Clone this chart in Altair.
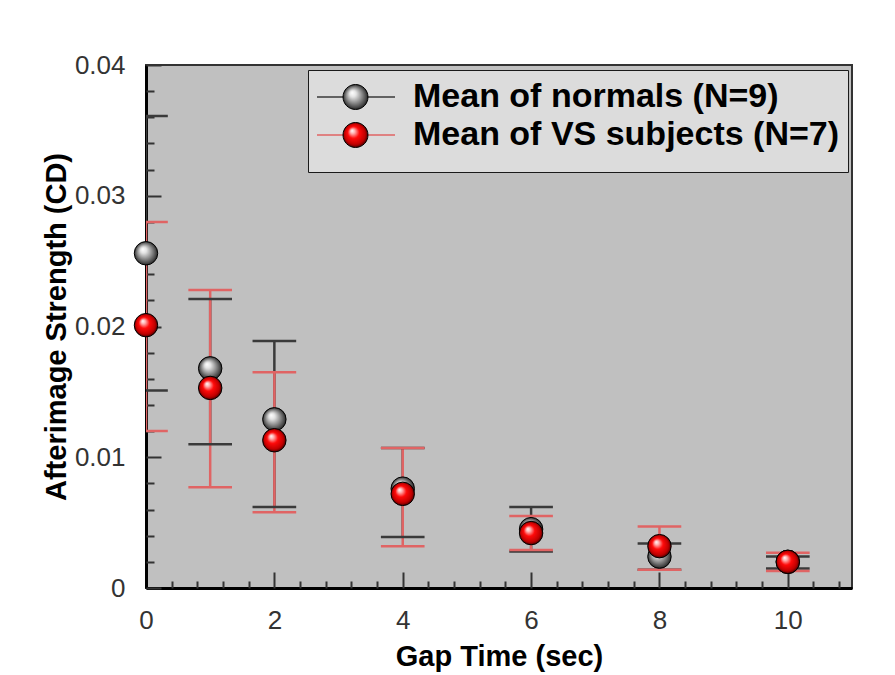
import altair as alt
import pandas as pd

FONT = "Liberation Sans"

# ---- data ----
gap = [0, 1, 2, 4, 6, 8, 10]
series_names = ["Mean of normals (N=9)", "Mean of VS subjects (N=7)"]
series_keys = ["N", "V"]

normal_mean = [0.0256, 0.0168, 0.0129, 0.0076, 0.0045, 0.0024, 0.0020]
normal_lo = [0.0151, 0.0110, 0.0062, 0.0039, 0.0028, 0.0014, 0.0015]
normal_hi = [0.0361, 0.0221, 0.0189, 0.0107, 0.0062, 0.0034, 0.0024]

vs_mean = [0.0201, 0.0153, 0.0113, 0.0072, 0.0042, 0.0032, 0.0020]
vs_lo = [0.0120, 0.0077, 0.0058, 0.0032, 0.0029, 0.0014, 0.0013]
vs_hi = [0.0280, 0.0228, 0.0165, 0.0107, 0.0055, 0.0047, 0.0027]

x_major = [0, 2, 4, 6, 8, 10]
x_minor = [0.4, 0.8, 1.2, 1.6, 2.4, 2.8, 3.2, 3.6, 4.4, 4.8, 5.2, 5.6,
           6.4, 6.8, 7.2, 7.6, 8.4, 8.8, 9.2, 9.6, 10.4, 10.8]
y_major = [0, 0.01, 0.02, 0.03, 0.04]
y_minor = [0.002, 0.004, 0.006, 0.008, 0.012, 0.014, 0.016, 0.018,
           0.022, 0.024, 0.026, 0.028, 0.032, 0.034, 0.036, 0.038]

rows = []
for name, key, means, los, his in [
    (series_names[0], series_keys[0], normal_mean, normal_lo, normal_hi),
    (series_names[1], series_keys[1], vs_mean, vs_lo, vs_hi),
]:
    for g, m, lo, hi in zip(gap, means, los, his):
        rows.append({"gap": g, "mean": m, "lo": lo, "hi": hi,
                     "series": name, "key": key})
df = pd.DataFrame(rows)

# ---- styling ----
line_colors = ["#3a3a3a", "#e06464"]
grad_gray = ("{gradient: 'radial', x1: 0.36, y1: 0.32, r1: 0, x2: 0.5, y2: 0.5, r2: 0.52, "
             "stops: [{offset: 0, color: '#ffffff'}, {offset: 0.25, color: '#e4e4e4'}, "
             "{offset: 0.6, color: '#8c8c8c'}, {offset: 0.85, color: '#4a4a4a'}, "
             "{offset: 1, color: '#1a1a1a'}]}")
grad_red = ("{gradient: 'radial', x1: 0.36, y1: 0.32, r1: 0, x2: 0.5, y2: 0.5, r2: 0.52, "
            "stops: [{offset: 0, color: '#ffffff'}, {offset: 0.18, color: '#ffb0b0'}, "
            "{offset: 0.45, color: '#ff0a0a'}, {offset: 0.8, color: '#c00000'}, "
            "{offset: 1, color: '#3a0000'}]}")

xscale = alt.Scale(domain=[0, 11], nice=False, zero=False)
yscale = alt.Scale(domain=[0, 0.04], nice=False, zero=False)

main_x = alt.Axis(orient="bottom", values=x_major, format="d", ticks=False, tickSize=0,
                  domain=True, domainColor="#000000", domainWidth=3, grid=False,
                  labelFont=FONT, labelFontSize=26, labelColor="#333333", labelPadding=19,
                  labelFlush=False, labelOverlap=False,
                  title="Gap Time (sec)", titleFont=FONT, titleFontSize=29,
                  titleFontWeight="bold", titleColor="#000000", titlePadding=9)
main_y = alt.Axis(orient="left", values=y_major, format=".2~f", ticks=False, tickSize=0,
                  domain=True, domainColor="#000000", domainWidth=3, grid=False,
                  labelFont=FONT, labelFontSize=26, labelColor="#333333", labelPadding=21,
                  labelFlush=False, labelOverlap=False,
                  title="Afterimage Strength (CD)", titleFont=FONT, titleFontSize=29,
                  titleFontWeight="bold", titleColor="#000000", titlePadding=3)

def tick_axis(orient, values, size):
    return alt.Axis(orient=orient, values=values, offset=-size, tickSize=size,
                    tickWidth=2, tickColor="#333333", labels=False, domain=False,
                    grid=False, title=None)

legend_a = alt.Legend(orient="none", legendX=162, legendY=5, title=" ",
                      titleOrient="bottom", titleFontSize=8, titlePadding=2,
                      padding=8, fillColor="#dcdcdc", strokeColor="#1a1a1a",
                      symbolType="stroke", symbolSize=6084, symbolStrokeWidth=1.5,
                      clipHeight=38, rowPadding=0, labelOffset=17,
                      labelFont=FONT, labelFontSize=34, labelFontWeight="bold",
                      labelColor="#000000", labelLimit=700)
circle_path = "M-0.32,0A0.32,0.32,0,1,1,0.32,0A0.32,0.32,0,1,1,-0.32,0Z"
legend_b = alt.Legend(orient="none", legendX=162, legendY=5, title=None, padding=8,
                      symbolType=circle_path, symbolSize=6084,
                      symbolStrokeColor="#000000", symbolStrokeWidth=1,
                      clipHeight=38, rowPadding=0, labelOpacity=0, labelFontSize=8)

color_enc = alt.Color("series:N", scale=alt.Scale(domain=series_names, range=line_colors),
                      legend=legend_a)
color_enc_nolegend = alt.Color("series:N", scale=alt.Scale(domain=series_names, range=line_colors),
                               legend=None)

base = alt.Chart(df)

rules = base.mark_rule(strokeWidth=2.5, clip=True).encode(
    x=alt.X("gap:Q", scale=xscale, axis=main_x),
    y=alt.Y("lo:Q", scale=yscale, axis=main_y),
    y2="hi:Q",
    color=color_enc,
)

caps = base.transform_calculate(
    xl="datum.gap - 0.34", xr="datum.gap + 0.34"
)
caps_hi = caps.mark_rule(strokeWidth=2.5, clip=True).encode(
    x=alt.X("xl:Q", scale=xscale, axis=None), x2="xr:Q",
    y=alt.Y("hi:Q", scale=yscale, axis=None),
    color=color_enc_nolegend,
)
caps_lo = caps.mark_rule(strokeWidth=2.5, clip=True).encode(
    x=alt.X("xl:Q", scale=xscale, axis=None), x2="xr:Q",
    y=alt.Y("lo:Q", scale=yscale, axis=None),
    color=color_enc_nolegend,
)

points = base.mark_point(shape="circle", filled=True, size=550, stroke="#000000",
                         strokeWidth=1, opacity=1).encode(
    x=alt.X("gap:Q", scale=xscale, axis=None),
    y=alt.Y("mean:Q", scale=yscale, axis=None),
    fill=alt.Fill("key:N", scale=alt.Scale(domain=series_keys,
                                           range=[{"expr": grad_gray}, {"expr": grad_red}]),
                  legend=legend_b),
)

major_ticks = base.mark_point(opacity=0).encode(
    x=alt.X("gap:Q", scale=xscale, axis=tick_axis("bottom", x_major, 16)),
    y=alt.Y("mean:Q", scale=yscale, axis=tick_axis("left", y_major, 15)),
)
minor_ticks = base.mark_point(opacity=0).encode(
    x=alt.X("gap:Q", scale=xscale, axis=tick_axis("bottom", x_minor, 7)),
    y=alt.Y("mean:Q", scale=yscale, axis=tick_axis("left", y_minor, 8)),
)

chart = alt.layer(rules, caps_hi, caps_lo, points, major_ticks, minor_ticks).resolve_axis(
    x="independent", y="independent"
).properties(
    width=706, height=523,
    padding={"left": 138, "top": 57, "right": 35, "bottom": 86},
    autosize=alt.AutoSizeParams(type="none"),
    background="white",
).configure_view(
    fill="#c0c0c0", stroke="#333333", strokeWidth=2
)

chart.save("out.html", embed_options={"renderer": "svg", "actions": False})
